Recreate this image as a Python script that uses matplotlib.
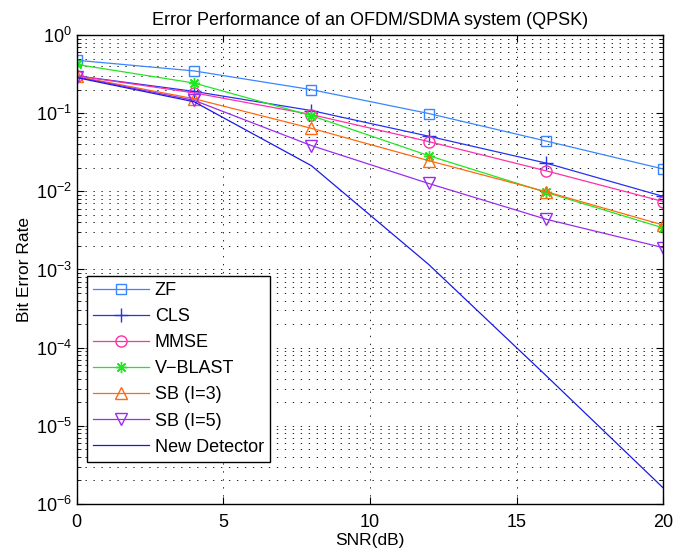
import numpy as np
import matplotlib
matplotlib.use('Agg')
import matplotlib.pyplot as plt
from matplotlib.ticker import LogLocator, NullFormatter

plt.rcParams['font.family'] = ['Liberation Sans', 'DejaVu Sans']
plt.rcParams['mathtext.fontset'] = 'custom'
plt.rcParams['mathtext.rm'] = 'Liberation Sans'

# SNR points (dB)
snr = [0, 4, 8, 12, 16, 20]

# BER curves
ber_zf = [0.475, 0.347, 0.200, 0.099, 0.044, 0.0193]
ber_cls = [0.300, 0.190, 0.108, 0.0507, 0.0230, 0.0086]
ber_mmse = [0.300, 0.182, 0.096, 0.0433, 0.0183, 0.0074]
ber_vblast = [0.420, 0.243, 0.093, 0.0286, 0.0097, 0.0034]
ber_sb3 = [0.295, 0.153, 0.064, 0.0247, 0.0099, 0.0037]
ber_sb5 = [0.290, 0.146, 0.0385, 0.0126, 0.0044, 0.0019]
ber_new = [0.285, 0.140, 0.0213, 0.00116, 4.4e-5, 1.6e-6]

labels = ['ZF', 'CLS', 'MMSE', 'V\u2212BLAST', 'SB (I=3)', 'SB (I=5)', 'New Detector']

fig = plt.figure(figsize=(6.73, 5.52), dpi=100)
ax = fig.add_axes([0.114, 0.087, 0.8716, 0.8496])

# MATLAB style asterisk: 8 spokes
star = (8, 2, 0)
ax.semilogy(snr, ber_zf, color='#3a86ff', marker='s', mfc='none', ms=7, lw=0.9, label=labels[0])
ax.semilogy(snr, ber_cls, color='#2233f0', marker='+', mfc='none', ms=10, lw=0.9, label=labels[1])
ax.semilogy(snr, ber_mmse, color='#ff2fa8', marker='o', mfc='none', ms=8, lw=0.9, label=labels[2])
ax.semilogy(snr, ber_vblast, color='#22e622', marker=star, mfc='none', ms=8, lw=0.9, label=labels[3])
ax.semilogy(snr, ber_sb3, color='#ff6a10', marker='^', mfc='none', ms=8, lw=0.9, label=labels[4])
ax.semilogy(snr, ber_sb5, color='#9a2cf0', marker='v', mfc='none', ms=8, lw=0.9, label=labels[5])
ax.semilogy(snr, ber_new, color='#1a1ae6', lw=0.9, label=labels[6])

ax.set_xlim(0, 20)
ax.set_ylim(1e-6, 1)
ax.set_xticks([0, 5, 10, 15, 20])
ax.yaxis.set_major_locator(LogLocator(base=10, numticks=10))
ax.yaxis.set_minor_locator(LogLocator(base=10, subs=np.arange(2, 10), numticks=20))
ax.yaxis.set_minor_formatter(NullFormatter())

dots = (0, (1.4, 6.8))
ax.grid(True, which='major', linestyle=dots, color='#222222', lw=0.7)
ax.grid(True, which='minor', axis='y', linestyle=dots, color='#222222', lw=0.7)

ax.tick_params(which='both', direction='in', top=True, right=True, labelsize=13)
ax.tick_params(axis='x', pad=7)
ax.tick_params(which='major', length=5)
ax.tick_params(which='minor', length=3)
for s in ax.spines.values():
    s.set_linewidth(1.0)

ax.set_xlabel('SNR(dB)', fontsize=12.5, labelpad=2)
ax.set_ylabel('Bit Error Rate', fontsize=12.5, labelpad=3)
ax.set_title('Error Performance of an OFDM/SDMA system (QPSK)', fontsize=13, pad=7)

leg = ax.legend(loc='upper left', bbox_to_anchor=(0.0176, 0.486), fontsize=13,
                fancybox=False, framealpha=1, edgecolor='black', handlelength=3.1,
                handletextpad=0.3, labelspacing=0.5, borderpad=0.35, borderaxespad=0)
leg.get_frame().set_linewidth(1.0)

fig.savefig('out.png', dpi=100)
